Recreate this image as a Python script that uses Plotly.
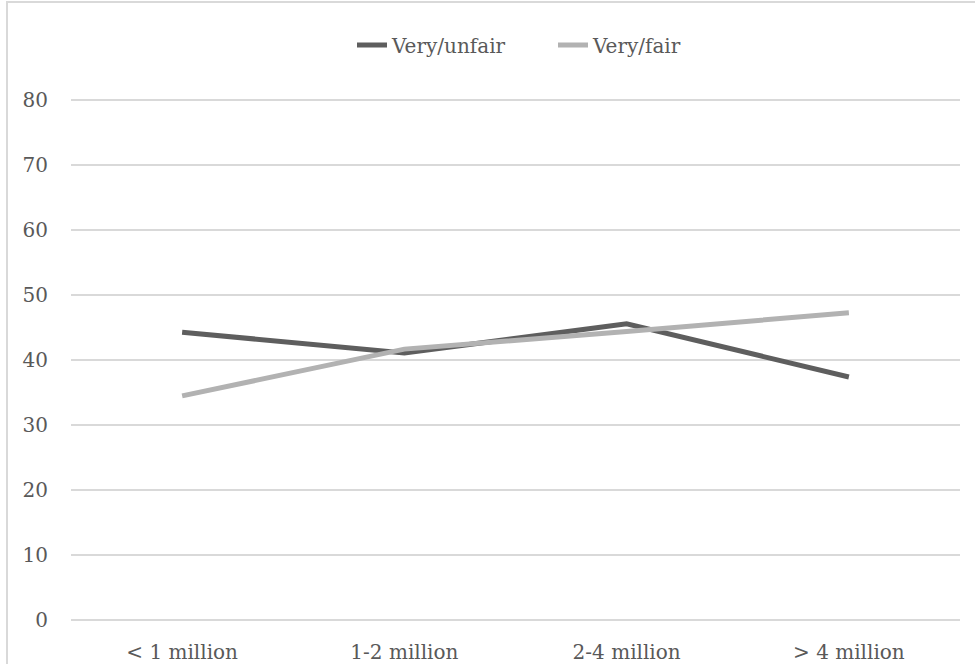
import plotly.graph_objects as go

# Population size bands
categories = ["< 1 million", "1-2 million", "2-4 million", "> 4 million"]

# Share of respondents (%)
very_unfair = [44.3, 41.1, 45.6, 37.4]
very_fair = [34.5, 41.7, 44.4, 47.3]

y_ticks = [0, 10, 20, 30, 40, 50, 60, 70, 80]

FONT = "DejaVu Serif"
TEXT = "#595959"
GRID = "#d9d9d9"

fig = go.Figure()
fig.add_trace(go.Scatter(
    x=categories, y=very_unfair, name="Very/unfair", mode="lines",
    line=dict(color="#5e5e5e", width=5),
))
fig.add_trace(go.Scatter(
    x=categories, y=very_fair, name="Very/fair", mode="lines",
    line=dict(color="#b2b2b2", width=5),
))

# Plot area: x 71..960 px, y ~99..620 px (top padded so the 80 gridline shows)
Y_MAX = 80.2
L, R, B = 71, 15, 44
W, H = 975, 664
px_per_unit = 6.5
T = H - B - round(Y_MAX * px_per_unit)
pw, ph = W - L - R, H - T - B

fig.update_layout(
    width=W, height=H,
    margin=dict(l=L, r=R, t=T, b=B, autoexpand=False),
    paper_bgcolor="white", plot_bgcolor="white",
    font=dict(family=FONT, size=20, color=TEXT),
    showlegend=True,
    legend=dict(
        orientation="h", x=(553 - L) / pw, xanchor="center",
        y=1 + (T - 45) / ph, yanchor="middle",
        font=dict(family=FONT, size=20, color=TEXT),
        entrywidth=156, entrywidthmode="pixels",
        itemwidth=30, tracegroupgap=0,
    ),
    xaxis=dict(
        type="category", range=[-0.5, 3.5], automargin=False,
        showgrid=False, showline=False, zeroline=False,
        ticks="", tickfont=dict(family=FONT, size=20, color=TEXT),
        ticklabelstandoff=18,
    ),
    yaxis=dict(
        range=[0, Y_MAX], tickvals=y_ticks, automargin=False,
        showgrid=True, gridcolor=GRID, gridwidth=1.5,
        zeroline=True, zerolinecolor=GRID, zerolinewidth=1.5,
        showline=False, ticks="",
        tickfont=dict(family=FONT, size=20, color=TEXT),
        ticklabelstandoff=22,
    ),
)

# Chart frame
fig.add_shape(
    type="rect", xref="paper", yref="paper", layer="below",
    x0=(7 - L) / pw, x1=1 + (990 - (W - R)) / pw,
    y0=-(700 - (H - B)) / ph, y1=1 + (T - 2) / ph,
    line=dict(color=GRID, width=2), fillcolor="rgba(0,0,0,0)",
)

fig.write_html("out.html")
